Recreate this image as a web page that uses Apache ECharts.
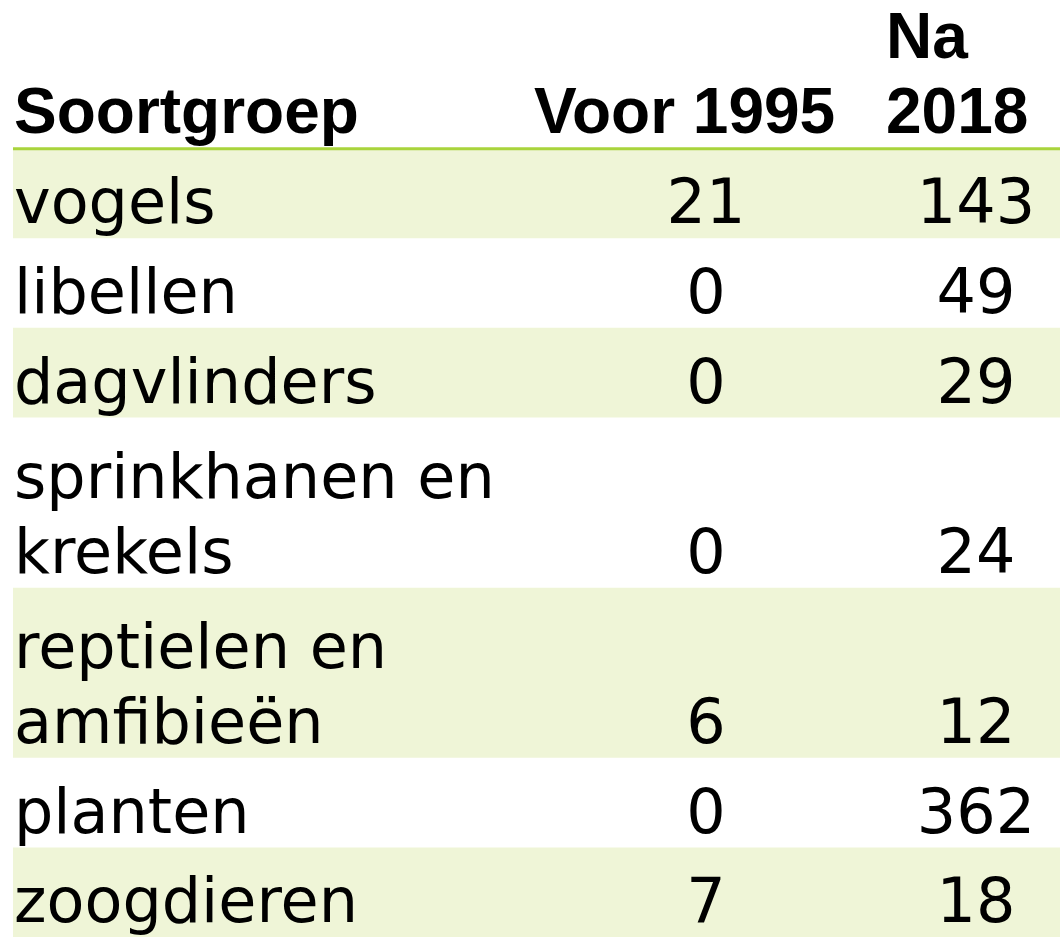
<!DOCTYPE html>
<html>
<head>
<meta charset="utf-8">
<script src="https://cdn.jsdelivr.net/npm/echarts@6/dist/echarts.min.js"></script>
<style>
  html, body { margin: 0; padding: 0; background: #fff; }
  #table { width: 1060px; height: 937px; }
</style>
</head>
<body>
<div id="table"></div>
<script>
// table content
const headers = ['Soortgroep', 'Voor 1995', 'Na\n2018'];
const categories = ['vogels', 'libellen', 'dagvlinders', 'sprinkhanen en\nkrekels', 'reptielen en\namfibieën', 'planten', 'zoogdieren'];
const voor1995 = [21, 0, 0, 0, 6, 0, 7];
const na2018 = [143, 49, 29, 24, 12, 362, 18];

// layout (x in px along the axis, y in row units)
const colLeft = [13, 530, 882];
const colRight = [530, 882, 1070];
const headerUnits = 1.66;
const lineGap = 75;

const rows = [headers].concat(categories.map((c, i) => [c, String(voor1995[i]), String(na2018[i])]));
const rowData = [];
let y = 0;
rows.forEach((r, i) => {
  let h;
  if (i === 0) h = headerUnits;
  else h = r[0].split('\n').length > 1 ? 1.9 : 1;
  rowData.push([i, y, y + h]);
  y += h;
});
const totalUnits = y;

let myChart = echarts.init(document.getElementById('table'));

function renderRow(params, api) {
  const i = api.value(0);
  const top = api.coord([0, api.value(1)])[1];
  const bottom = api.coord([0, api.value(2)])[1];
  const left = api.coord([colLeft[0], 0])[0];
  const right = api.coord([1060, 0])[0];
  const children = [];
  const isHeader = i === 0;

  if (!isHeader && i % 2 === 1) {
    children.push({
      type: 'rect',
      shape: { x: left, y: top, width: right - left, height: bottom - top },
      style: { fill: '#eff5d7' }
    });
  }
  if (isHeader) {
    // green rule under the header, kept above the first shaded row
    children.push({
      type: 'rect',
      z2: 100,
      shape: { x: left, y: bottom - 1.5, width: right - left, height: 3 },
      style: { fill: '#a9d43c' }
    });
  }

  rows[i].forEach((cell, c) => {
    const lines = cell.split('\n');
    const n = lines.length;
    lines.forEach((line, j) => {
      let x, align;
      if (c === 0) {
        x = api.coord([colLeft[0] + 1, 0])[0];
        align = 'left';
      } else if (isHeader) {
        x = api.coord([colLeft[c] + 4, 0])[0];
        align = 'left';
      } else {
        x = api.coord([(colLeft[c] + colRight[c]) / 2, 0])[0];
        align = 'center';
      }
      const yy = (isHeader ? bottom - 33 : bottom - 31) - (n - 1 - j) * lineGap;
      children.push({
        type: 'text',
        z2: 50,
        style: {
          text: line,
          x: x,
          y: yy,
          align: align,
          verticalAlign: 'middle',
          fill: '#000',
          font: isHeader ? 'bold 64px "Liberation Sans"' : '62px "DejaVu Sans"'
        }
      });
    });
  });

  return { type: 'group', children: children };
}

myChart.setOption({
  animation: false,
  grid: { left: 0, right: 0, top: 0, bottom: 0 },
  xAxis: { type: 'value', min: 0, max: 1060, show: false },
  yAxis: { type: 'value', min: 0, max: totalUnits, inverse: true, show: false },
  series: [
    {
      type: 'custom',
      renderItem: renderRow,
      clip: false,
      data: rowData
    }
  ]
});
</script>
</body>
</html>
